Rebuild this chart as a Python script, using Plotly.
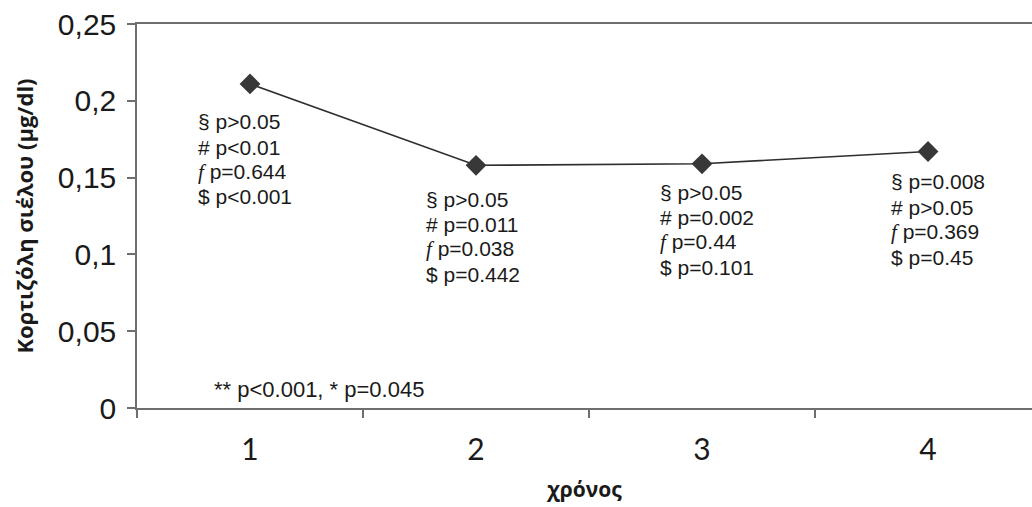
import plotly.graph_objects as go

categories = ["1", "2", "3", "4"]
cortisol = [0.211, 0.158, 0.159, 0.167]

ann_sect = ["p>0.05", "p>0.05", "p>0.05", "p=0.008"]
ann_hash = ["p<0.01", "p=0.011", "p=0.002", "p>0.05"]
ann_f = ["p=0.644", "p=0.038", "p=0.44", "p=0.369"]
ann_dollar = ["p<0.001", "p=0.442", "p=0.101", "p=0.45"]
footnote = "** p<0.001, * p=0.045"

# annotation anchor positions (paper pixels): left x and centre y of first line
ann_x_px = [196, 424, 658, 889]
ann_y_px = [122, 199, 192, 182]
LINE_GAP = 25

W, H = 1032, 507
ML, MT, MB, MR = 137, 24, 99, 0
PW, PH = W - ML - MR, H - MT - MB

fig = go.Figure()
fig.add_trace(go.Scatter(
    x=categories, y=cortisol, mode="lines+markers",
    line=dict(color="#2e2e2e", width=1.6),
    marker=dict(symbol="diamond", size=16, color="#383838"),
    showlegend=False, hoverinfo="skip"))

serif_f = "<span style=\"font-family:'Liberation Serif';font-style:italic\">f</span>"
FONT = dict(family="Liberation Sans, Arial", size=21, color="#1a1a1a")
for i in range(len(categories)):
    lines = [
        "§ " + ann_sect[i],
        "# " + ann_hash[i],
        serif_f + " " + ann_f[i],
        "$ " + ann_dollar[i],
    ]
    for j, txt in enumerate(lines):
        ypx = ann_y_px[i] + j * LINE_GAP
        fig.add_annotation(
            x=(ann_x_px[i] - ML) / PW, y=1 - (ypx - MT) / PH,
            xref="paper", yref="paper", xanchor="left", yanchor="middle",
            text=txt, showarrow=False, align="left", font=FONT)

fig.add_annotation(
    x=(212 - ML) / PW, y=1 - (389 - MT) / PH, xref="paper", yref="paper",
    xanchor="left", yanchor="middle", text=footnote, showarrow=False,
    font=dict(family="Liberation Sans, Arial", size=22, color="#1a1a1a"))

fig.update_layout(
    width=W, height=H,
    margin=dict(l=ML, r=MR, t=MT, b=MB, pad=0),
    plot_bgcolor="white", paper_bgcolor="white",
    xaxis=dict(
        type="category", range=[-0.5, 3.46], tickson="boundaries",
        showline=True, linecolor="#6e6e6e", linewidth=1.5, mirror=True,
        ticks="outside", ticklen=8, tickcolor="#6e6e6e", tickwidth=1.5,
        showgrid=False, zeroline=False, ticklabelstandoff=14,
        tickfont=dict(family="Lato, Liberation Sans", size=30, color="#1a1a1a"),
        title=dict(text="<b>χρόνος</b>", standoff=18,
                   font=dict(family="Open Sans, Liberation Sans", size=21, color="#1a1a1a")),
    ),
    yaxis=dict(
        range=[0, 0.25], tickvals=[0, 0.05, 0.1, 0.15, 0.2, 0.25],
        ticktext=["0", "0,05", "0,1", "0,15", "0,2", "0,25"],
        showline=True, linecolor="#6e6e6e", linewidth=1.5,
        ticks="outside", ticklen=8, tickcolor="#6e6e6e", tickwidth=1.5,
        showgrid=False, zeroline=False, ticklabelstandoff=5,
        tickfont=dict(family="Liberation Sans, Arial", size=30, color="#1a1a1a"),
        title=dict(text="<b>Κορτιζόλη σιέλου (μg/dl)</b>", standoff=18,
                   font=dict(family="Open Sans, Liberation Sans", size=22, color="#1a1a1a")),
    ),
)

fig.write_html("out.html")
